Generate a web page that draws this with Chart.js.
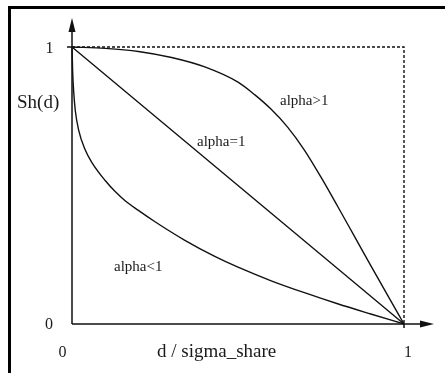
<!DOCTYPE html>
<html>
<head>
<meta charset="utf-8">
<script src="https://cdn.jsdelivr.net/npm/chart.js@4/dist/chart.umd.min.js"></script>
<style>
  html, body { margin: 0; padding: 0; background: #fff; }
  #c { display: block; }
</style>
</head>
<body>
<canvas id="c" width="445" height="373"></canvas>
<script>
// Sharing function Sh(d) against normalised distance d / sigma_share
const alphaGt1 = [
  [0, 1], [0.1, 0.995], [0.2, 0.984], [0.3, 0.962], [0.4, 0.928],
  [0.5, 0.873], [0.55, 0.828], [0.6, 0.775], [0.65, 0.71], [0.7, 0.628],
  [0.75, 0.53], [0.8, 0.425], [0.85, 0.318], [0.9, 0.211], [0.95, 0.105], [1, 0]
];
const alphaEq1 = [[0, 1], [1, 0]];
const alphaLt1 = [
  [0, 1], [0.002, 0.91], [0.005, 0.84], [0.01, 0.77], [0.02, 0.70],
  [0.04, 0.628], [0.06, 0.583], [0.1, 0.518], [0.13, 0.478], [0.16, 0.445],
  [0.2, 0.41], [0.25, 0.369], [0.34, 0.302], [0.43, 0.244], [0.5, 0.205],
  [0.6, 0.156], [0.7, 0.113], [0.8, 0.073], [0.9, 0.036], [1, 0]
];
const boundary = [[0, 1], [1, 1], [1, 0]];

const xTickLabels = ['0', '1'];
const yTickLabels = ['0', '1'];
const xTitle = 'd / sigma_share';
const yTitle = 'Sh(d)';
const curveLabels = ['alpha>1', 'alpha=1', 'alpha<1'];

const toXY = arr => arr.map(p => ({ x: p[0], y: p[1] }));
const INK = '#111';
const SERIF = '"Liberation Serif", "DejaVu Serif", serif';

const curve = (label, pts) => ({
  label,
  data: toXY(pts),
  showLine: true,
  borderColor: INK,
  borderWidth: 1.4,
  pointRadius: 0,
  cubicInterpolationMode: 'monotone',
  clip: false
});

// Frame, arrowed axes, ticks and text
const decorations = {
  id: 'decorations',
  beforeDatasetsDraw(chart) {
    const ctx = chart.ctx;
    const xs = chart.scales.x, ys = chart.scales.y;
    const x0 = xs.getPixelForValue(0), x1 = xs.getPixelForValue(1);
    const y0 = ys.getPixelForValue(0), y1 = ys.getPixelForValue(1);
    ctx.save();
    // outer frame (top and left edges)
    ctx.fillStyle = '#000';
    ctx.fillRect(8, 6, 437, 3);
    ctx.fillRect(8, 6, 3, 367);

    ctx.strokeStyle = INK;
    ctx.fillStyle = INK;
    ctx.lineWidth = 1.5;
    // axes
    ctx.beginPath();
    ctx.moveTo(x0, y0); ctx.lineTo(x0, 22);
    ctx.moveTo(x0, y0); ctx.lineTo(430, y0);
    // small ticks at 1
    ctx.moveTo(x0 - 5, y1); ctx.lineTo(x0, y1);
    ctx.moveTo(x1, y0); ctx.lineTo(x1, y0 + 4);
    ctx.stroke();
    // arrow heads
    ctx.beginPath();
    ctx.moveTo(x0, 18); ctx.lineTo(x0 - 3.5, 32); ctx.lineTo(x0 + 3.5, 32); ctx.closePath();
    ctx.fill();
    ctx.beginPath();
    ctx.moveTo(434, y0); ctx.lineTo(420, y0 - 3.5); ctx.lineTo(420, y0 + 3.5); ctx.closePath();
    ctx.fill();
    ctx.restore();
  },
  afterDraw(chart) {
    const ctx = chart.ctx;
    const xs = chart.scales.x, ys = chart.scales.y;
    ctx.save();
    ctx.fillStyle = '#1a1a1a';
    ctx.textBaseline = 'alphabetic';
    // tick labels
    ctx.font = '16px ' + SERIF;
    ctx.textAlign = 'center';
    ctx.fillText(yTickLabels[1], xs.getPixelForValue(0) - 22.5, ys.getPixelForValue(1) + 6);
    ctx.fillText(yTickLabels[0], xs.getPixelForValue(0) - 23, ys.getPixelForValue(0) + 5);
    ctx.fillText(xTickLabels[0], xs.getPixelForValue(0) - 9.5, 357);
    ctx.fillText(xTickLabels[1], xs.getPixelForValue(1) + 4, 357);
    // axis titles
    ctx.font = '19px ' + SERIF;
    ctx.textAlign = 'left';
    ctx.fillText(xTitle, 157, 357);
    ctx.fillText(yTitle, 17, 108);
    // curve labels
    ctx.font = '15px ' + SERIF;
    ctx.fillText(curveLabels[0], 280, 105);
    ctx.fillText(curveLabels[1], 197, 146);
    ctx.fillText(curveLabels[2], 114, 271);
    ctx.restore();
  }
};

new Chart(document.getElementById('c'), {
  type: 'scatter',
  data: {
    datasets: [
      curve(curveLabels[0], alphaGt1),
      curve(curveLabels[1], alphaEq1),
      curve(curveLabels[2], alphaLt1),
      {
        label: 'bound',
        data: toXY(boundary),
        showLine: true,
        borderColor: INK,
        borderWidth: 1.4,
        borderDash: [3, 2],
        pointRadius: 0,
        clip: false
      }
    ]
  },
  options: {
    responsive: false,
    animation: false,
    devicePixelRatio: 1,
    layout: { padding: { left: 72, right: 41, top: 47, bottom: 49 } },
    scales: {
      x: { type: 'linear', min: 0, max: 1, display: false },
      y: { type: 'linear', min: 0, max: 1, display: false }
    },
    plugins: { legend: { display: false }, tooltip: { enabled: false } }
  },
  plugins: [decorations]
});
</script>
</body>
</html>
